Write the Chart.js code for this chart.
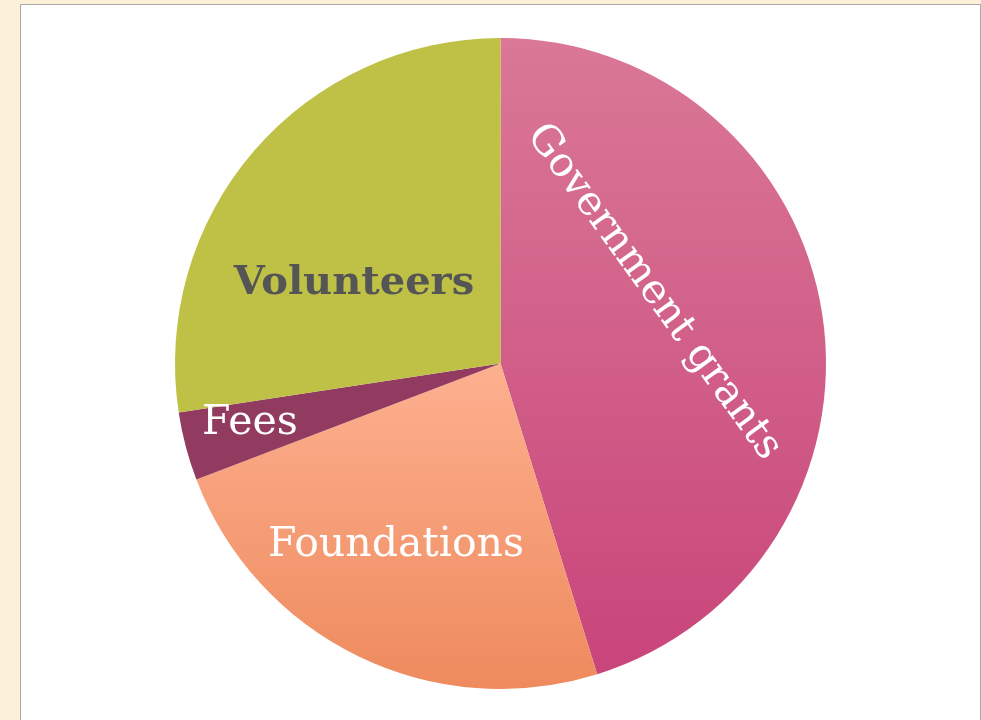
<!DOCTYPE html>
<html>
<head>
<meta charset="utf-8">
<script src="https://cdn.jsdelivr.net/npm/chart.js@4.4.1/dist/chart.umd.min.js"></script>
<style>
  html, body { margin: 0; padding: 0; width: 981px; height: 720px; overflow: hidden; background: #fdf0d8; }
  .panel { position: absolute; left: 20px; top: 4px; width: 959px; height: 730px; background: #fff; border: 1px solid #a9a9a9; }
  .wrap { position: absolute; left: 0; top: 0; width: 981px; height: 720px; }
</style>
</head>
<body>
<div class="panel"></div>
<div class="wrap"><canvas id="pie"></canvas></div>
<script>
// funding sources, clockwise from 12 o'clock
const categories = ['Government grants', 'Foundations', 'Fees', 'Volunteers'];
const shares = [45.2, 24.0, 3.4, 27.4];

// slice fills: [top colour, bottom colour] of a vertical gradient
const fills = [
  ['#da7896', '#c8447a'],
  ['#fdb08f', '#ee8a5e'],
  ['#923b60', '#923b60'],
  ['#bfc147', '#bfc147'],
];

// label look + placement (offsets in units of the pie radius, baseline anchored)
const labelStyle = [
  { dx: 0.444, dy: -0.200, rot: 54.0, font: '41px "DejaVu Serif"', color: '#fff' },
  { dx: -0.321, dy: 0.590, rot: 0, font: '41px "DejaVu Serif"', color: '#fff' },
  { dx: -0.770, dy: 0.218, rot: 0, font: '41px "DejaVu Serif"', color: '#fff' },
  { dx: -0.450, dy: -0.215, rot: 0, font: 'bold 40px "DejaVu Serif"', color: '#555555' },
];

const sliceFill = (c) => {
  const { chart, dataIndex } = c;
  const area = chart.chartArea;
  const [top, bottom] = fills[dataIndex];
  if (!area) return top;
  const g = chart.ctx.createLinearGradient(0, area.top, 0, area.bottom);
  if (dataIndex === 1) { g.addColorStop(0, top); g.addColorStop(0.5, top); }
  else g.addColorStop(0, top);
  g.addColorStop(1, bottom);
  return g;
};

const sliceLabels = {
  id: 'sliceLabels',
  afterDatasetsDraw(chart) {
    const meta = chart.getDatasetMeta(0);
    const ctx = chart.ctx;
    meta.data.forEach((arc, i) => {
      const s = labelStyle[i];
      const r = arc.outerRadius;
      ctx.save();
      ctx.translate(arc.x + s.dx * r, arc.y + s.dy * r);
      ctx.rotate(s.rot * Math.PI / 180);
      ctx.font = s.font;
      ctx.fillStyle = s.color;
      ctx.textAlign = 'center';
      ctx.textBaseline = 'alphabetic';
      ctx.fillText(categories[i], 0, 0);
      ctx.restore();
    });
  }
};

new Chart(document.getElementById('pie'), {
  type: 'pie',
  data: {
    labels: categories,
    datasets: [{ data: shares, backgroundColor: sliceFill, borderWidth: 0 }]
  },
  options: {
    responsive: true, maintainAspectRatio: false,
    animation: false,
    layout: { padding: { left: 175, right: 155, top: 38, bottom: 31 } },
    plugins: { legend: { display: false }, tooltip: { enabled: false } }
  },
  plugins: [sliceLabels]
});
</script>
</body>
</html>
